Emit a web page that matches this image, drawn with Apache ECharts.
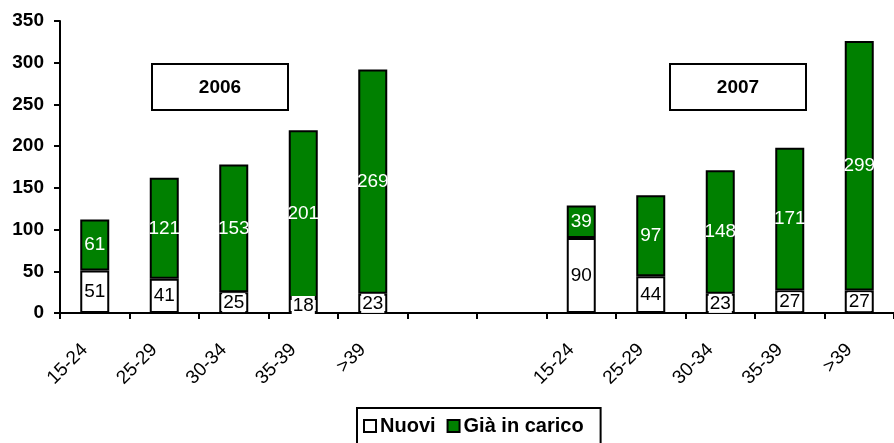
<!DOCTYPE html>
<html>
<head>
<meta charset="utf-8">
<script src="https://cdn.jsdelivr.net/npm/echarts@6/dist/echarts.min.js"></script>
<style>
  html, body { margin: 0; padding: 0; background: #fff; }
  #main { width: 894px; height: 443px; }
</style>
</head>
<body>
<div id="main"></div>
<script>
// fasce d'età, due anni con due colonne vuote in mezzo
var categories = ["15-24", "25-29", "30-34", "35-39", ">39", "", " ", "15-24", "25-29", "30-34", "35-39", ">39"];
var nuovi = [51, 41, 25, 18, 23, null, null, 90, 44, 23, 27, 27];
var giaInCarico = [61, 121, 153, 201, 269, null, null, 39, 97, 148, 171, 299];
var yTicks = [0, 350, 50]; // min, max, passo

var font = "Liberation Sans, Arial, sans-serif";
var verde = "#008000";

var chartDom = document.getElementById("main");
var myChart = echarts.init(chartDom);
var option;

// riquadro con l'anno
function boxAnno(testo, x) {
  return {
    type: "group",
    left: x,
    top: 63,
    children: [
      {
        type: "rect",
        shape: { x: 0, y: 0, width: 136, height: 46 },
        style: { fill: "#fff", stroke: "#000", lineWidth: 2 }
      },
      {
        type: "text",
        x: 68,
        y: 24,
        style: {
          text: testo,
          fill: "#000",
          font: "bold 19px " + font,
          align: "center",
          verticalAlign: "middle"
        }
      }
    ]
  };
}

option = {
  animation: false,
  textStyle: { fontFamily: font },
  grid: { left: 60, right: -5, top: 21, bottom: 130 },
  legend: {
    top: 408,
    left: 357,
    itemWidth: 12,
    itemHeight: 12,
    itemGap: 11,
    padding: [8, 17, 14, 6],
    borderColor: "#000",
    borderWidth: 2,
    icon: "rect",
    textStyle: { fontWeight: "bold", fontSize: 20, color: "#000", padding: [0, 0, 0, -1] },
    data: ["Nuovi", "Già in carico"]
  },
  xAxis: {
    type: "category",
    data: categories,
    axisLine: { lineStyle: { color: "#000", width: 2 } },
    axisTick: { show: true, length: 6, lineStyle: { color: "#000", width: 2 } },
    axisLabel: {
      interval: 0,
      rotate: 45,
      margin: 24,
      padding: [0, 14, 0, 0],
      fontSize: 19,
      color: "#000"
    }
  },
  yAxis: {
    type: "value",
    min: yTicks[0],
    max: yTicks[1],
    interval: yTicks[2],
    splitLine: { show: false },
    axisLine: { show: true, lineStyle: { color: "#000", width: 2 } },
    axisTick: { show: true, length: 6, lineStyle: { color: "#000", width: 2 } },
    axisLabel: { fontSize: 19, fontWeight: "bold", color: "#000", margin: 16 }
  },
  graphic: [boxAnno("2006", 151), boxAnno("2007", 669)],
  series: [
    {
      name: "Nuovi",
      type: "bar",
      stack: "tot",
      barWidth: 29,
      data: nuovi,
      itemStyle: { color: "#fff", borderColor: "#000", borderWidth: 2 },
      label: {
        show: true,
        position: "inside",
        fontSize: 19,
        color: "#000",
        backgroundColor: "#fff",
        padding: [0, 1]
      }
    },
    {
      name: "Già in carico",
      type: "bar",
      stack: "tot",
      barWidth: 29,
      data: giaInCarico,
      itemStyle: { color: verde, borderColor: "#000", borderWidth: 2 },
      label: { show: true, position: "inside", fontSize: 19, color: "#fff" }
    }
  ]
};

option && myChart.setOption(option);
</script>
</body>
</html>
